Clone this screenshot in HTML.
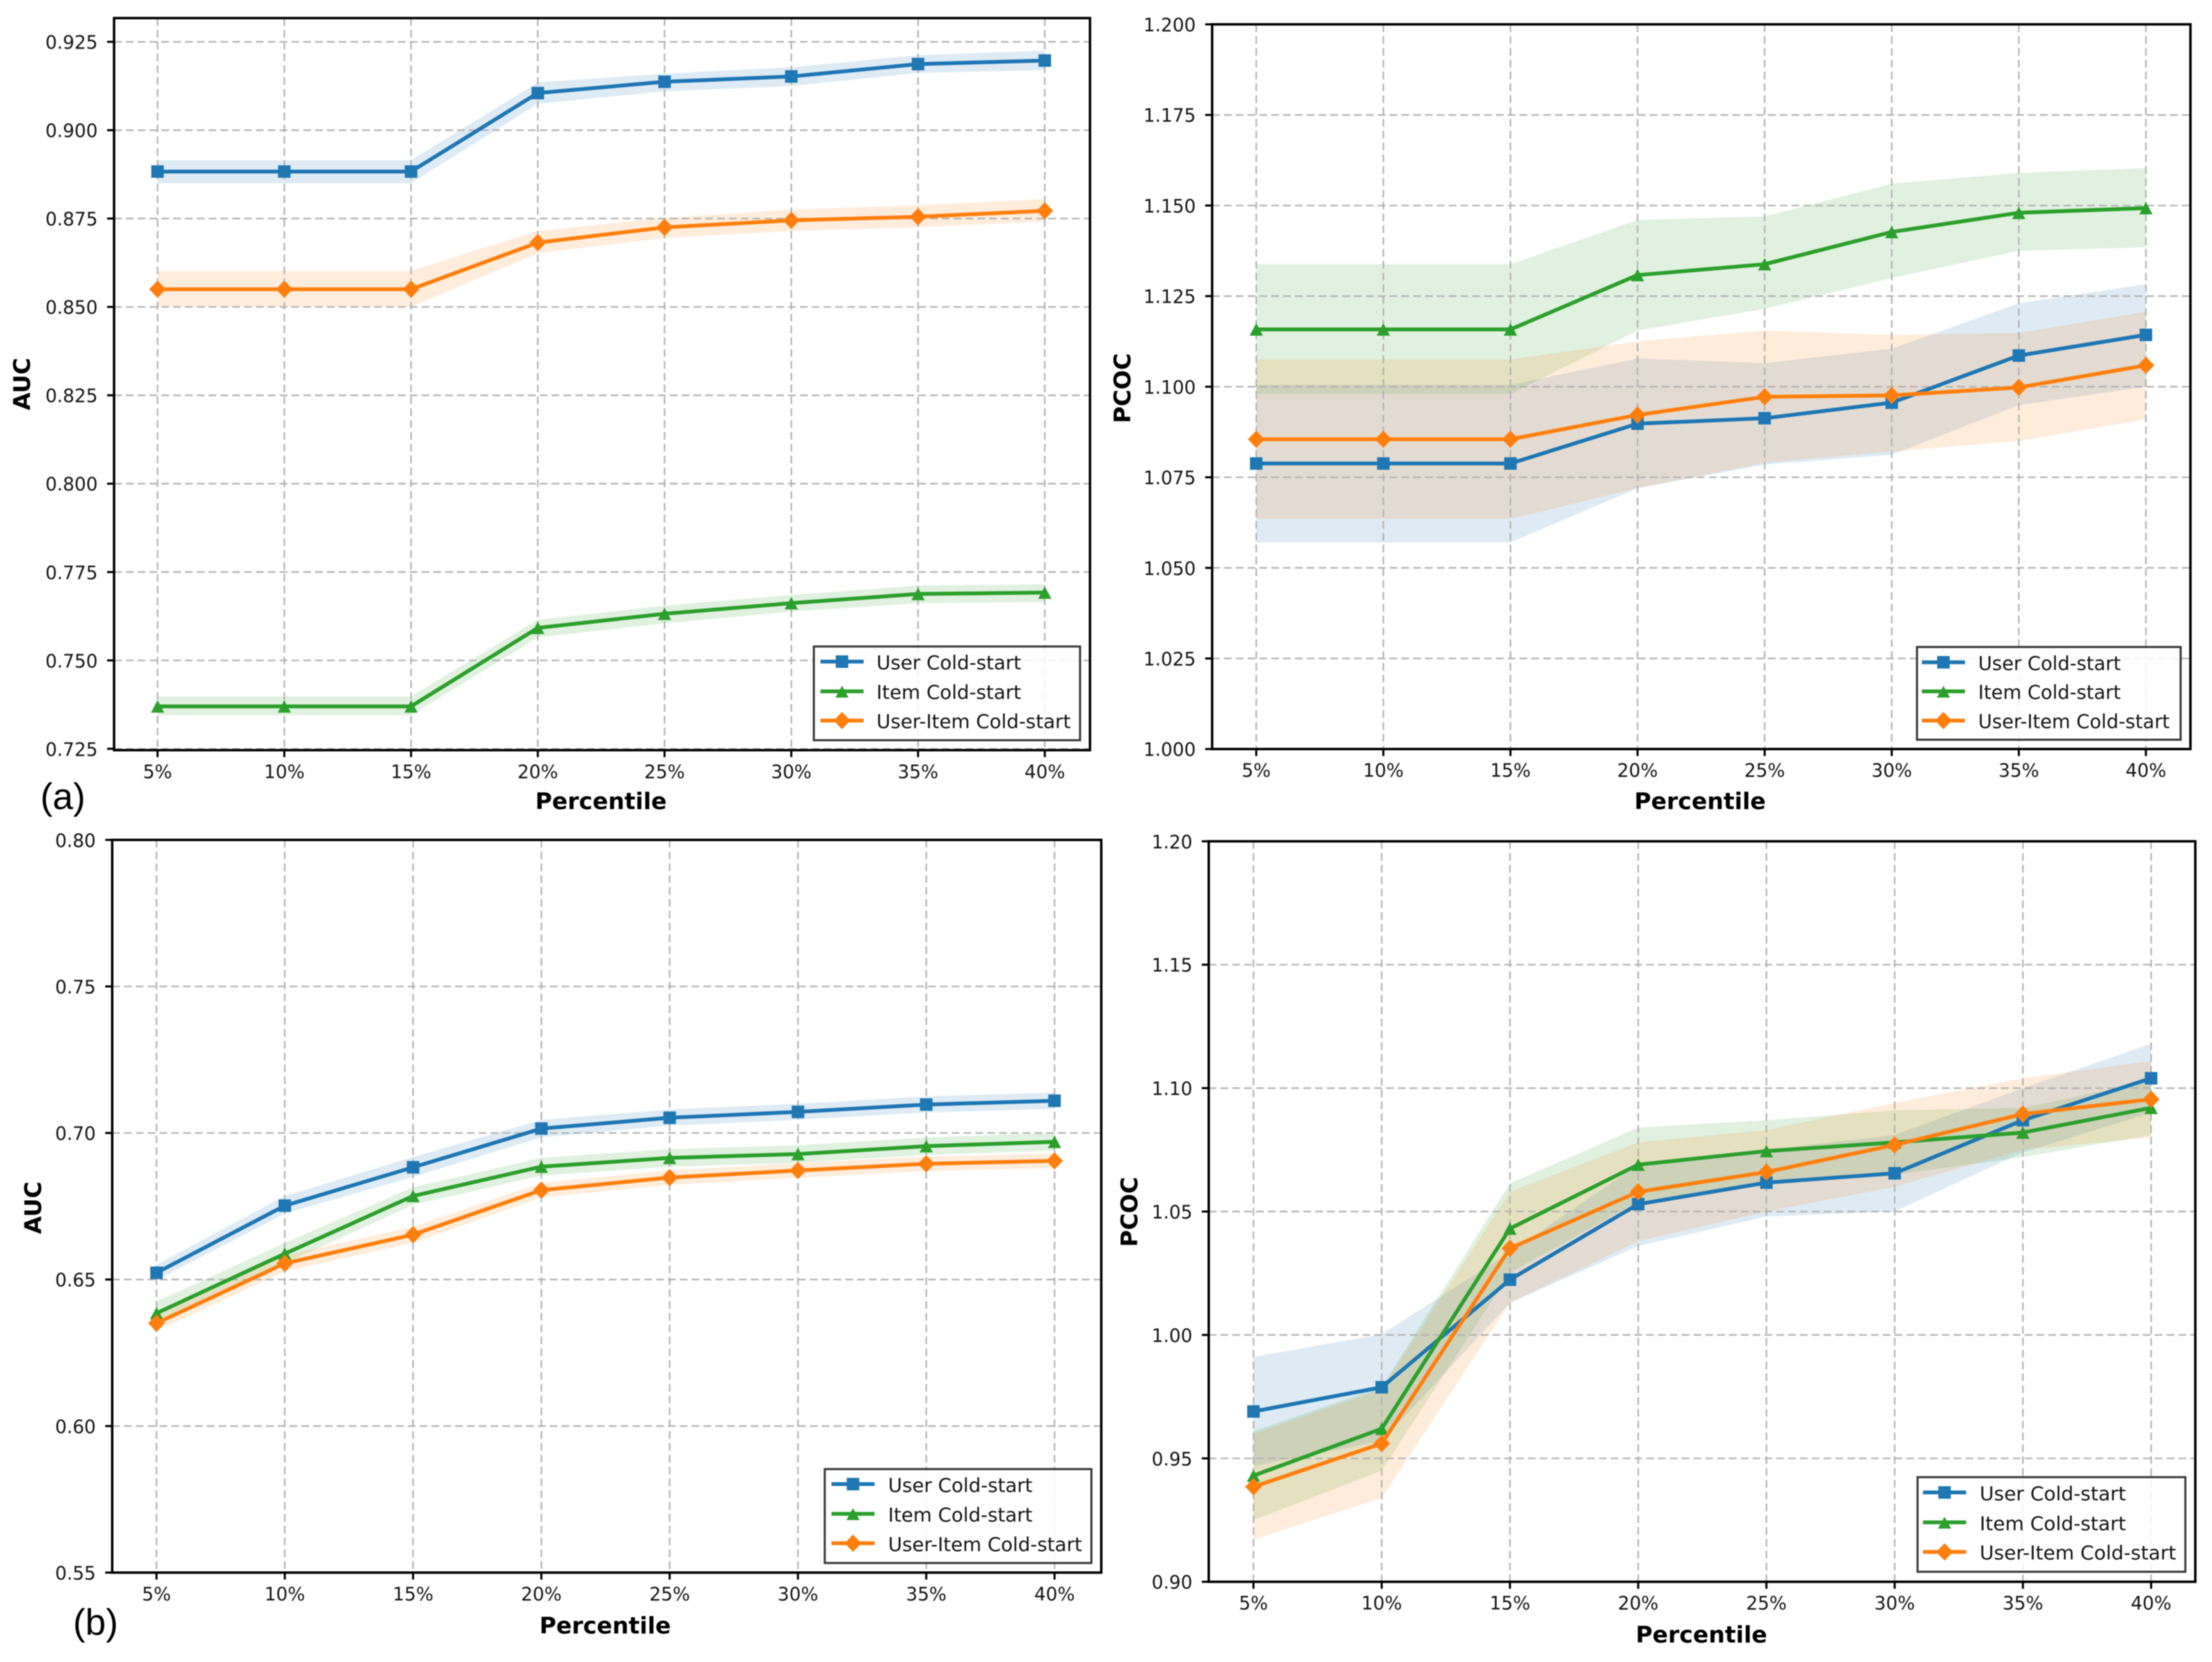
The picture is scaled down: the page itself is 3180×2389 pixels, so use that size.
<!DOCTYPE html>
<html lang="en">
<head>
<meta charset="utf-8">
<title>Cold-start AUC and PCOC by percentile</title>
<style>
html,body{margin:0;padding:0;background:#fff}
svg{display:block;filter:blur(0.7px)}
text{font-family:"DejaVu Sans","Liberation Sans",sans-serif;fill:#151515}
.tick{font-size:26.3px}
.title{font-size:33px;font-weight:bold;fill:#000}
.tag{font-family:"Liberation Sans",sans-serif;font-size:53px;fill:#000}
.box{fill:#fff;fill-opacity:.85;stroke:#3a3a3a;stroke-width:3}
.h{stroke-width:5.5;fill:none}
</style>
</head>
<body>
<svg xmlns="http://www.w3.org/2000/svg" width="3180" height="2389" viewBox="0 0 3180 2389">
<rect width="3180" height="2389" fill="#fff"/>

<g>
  <g id="plot-a"></g>
  <rect x="164" y="26" width="1403" height="1052.3" fill="none" stroke="#000" stroke-width="3.5"/>
  <text class="title" transform="translate(43,552) rotate(-90)" text-anchor="middle">AUC</text>
  <text class="title" x="864" y="1163" text-anchor="middle">Percentile</text>
  <g transform="translate(1170,929.3)">
    <rect class="box" width="382.7" height="134.7"/>
    <g>
      <path class="h" d="M9.5 21.7H71.5" stroke="#1f77b4"/><rect x="31.5" y="12.7" width="18" height="18" fill="#1f77b4"/>
      <text x="90" y="32.7" font-size="27.7">User Cold-start</text>
    </g>
    <g>
      <path class="h" d="M9.5 64.4H71.5" stroke="#2ca02c"/><path d="M40.5 56.4l9.5 17h-19z" fill="#2ca02c"/>
      <text x="90" y="75.4" font-size="27.7">Item Cold-start</text>
    </g>
    <g>
      <path class="h" d="M9.5 106.4H71.5" stroke="#ff7f0e"/><path d="M40.5 93.9l12 12.5-12 12.5-12-12.5z" fill="#ff7f0e"/>
      <text x="90" y="117.4" font-size="27.7">User-Item Cold-start</text>
    </g>
  </g>
  <text class="tag" x="58" y="1163">(a)</text>
</g>

<g>
  <g id="plot-b"></g>
  <rect x="1742.6" y="35" width="1406.4" height="1041.7" fill="none" stroke="#000" stroke-width="3.5"/>
  <text class="title" transform="translate(1625,558) rotate(-90)" text-anchor="middle">PCOC</text>
  <text class="title" x="2444" y="1163" text-anchor="middle">Percentile</text>
  <g transform="translate(2755.9,930)">
    <rect class="box" width="379" height="133.3"/>
    <g>
      <path class="h" d="M7 22H69" stroke="#1f77b4"/><rect x="29" y="13" width="18" height="18" fill="#1f77b4"/>
      <text x="88" y="33" font-size="27.3">User Cold-start</text>
    </g>
    <g>
      <path class="h" d="M7 63.7H69" stroke="#2ca02c"/><path d="M38 55.7l9.5 17h-19z" fill="#2ca02c"/>
      <text x="88" y="74.7" font-size="27.3">Item Cold-start</text>
    </g>
    <g>
      <path class="h" d="M7 105.7H69" stroke="#ff7f0e"/><path d="M38 93.2l12 12.5-12 12.5-12-12.5z" fill="#ff7f0e"/>
      <text x="88" y="116.7" font-size="27.3">User-Item Cold-start</text>
    </g>
  </g>
</g>

<g>
  <g id="plot-c"></g>
  <rect x="161.3" y="1207.3" width="1421.9" height="1053.2" fill="none" stroke="#000" stroke-width="3.5"/>
  <text class="title" transform="translate(59,1736) rotate(-90)" text-anchor="middle">AUC</text>
  <text class="title" x="870" y="2348" text-anchor="middle">Percentile</text>
  <g transform="translate(1185.7,2111.7)">
    <rect class="box" width="383.3" height="135"/>
    <g>
      <path class="h" d="M9.6 21.6H71.6" stroke="#1f77b4"/><rect x="31.6" y="12.6" width="18" height="18" fill="#1f77b4"/>
      <text x="91" y="32.6" font-size="27.66">User Cold-start</text>
    </g>
    <g>
      <path class="h" d="M9.6 64.3H71.6" stroke="#2ca02c"/><path d="M40.6 56.3l9.5 17h-19z" fill="#2ca02c"/>
      <text x="91" y="75.3" font-size="27.66">Item Cold-start</text>
    </g>
    <g>
      <path class="h" d="M9.6 106.6H71.6" stroke="#ff7f0e"/><path d="M40.6 94.1l12 12.5-12 12.5-12-12.5z" fill="#ff7f0e"/>
      <text x="91" y="117.6" font-size="27.66">User-Item Cold-start</text>
    </g>
  </g>
  <text class="tag" x="105" y="2350">(b)</text>
</g>

<g>
  <g id="plot-d"></g>
  <rect x="1737.7" y="1209.3" width="1418.3" height="1064.4" fill="none" stroke="#000" stroke-width="3.5"/>
  <text class="title" transform="translate(1635,1742) rotate(-90)" text-anchor="middle">PCOC</text>
  <text class="title" x="2446" y="2361" text-anchor="middle">Percentile</text>
  <g transform="translate(2756.7,2123.3)">
    <rect class="box" width="385" height="136"/>
    <g>
      <path class="h" d="M7.8 22H69.8" stroke="#1f77b4"/><rect x="29.8" y="13" width="18" height="18" fill="#1f77b4"/>
      <text x="89.3" y="33" font-size="28">User Cold-start</text>
    </g>
    <g>
      <path class="h" d="M7.8 65H69.8" stroke="#2ca02c"/><path d="M38.8 57l9.5 17h-19z" fill="#2ca02c"/>
      <text x="89.3" y="76" font-size="28">Item Cold-start</text>
    </g>
    <g>
      <path class="h" d="M7.8 107.4H69.8" stroke="#ff7f0e"/><path d="M38.8 94.9l12 12.5-12 12.5-12-12.5z" fill="#ff7f0e"/>
      <text x="89.3" y="118.4" font-size="28">User-Item Cold-start</text>
    </g>
  </g>
</g>
</svg>

<script>
const percentiles = ['5%','10%','15%','20%','25%','30%','35%','40%'];

const ticksA = ['0.725','0.750','0.775','0.800','0.825','0.850','0.875','0.900','0.925'];
const userA = [0.8883,0.8883,0.8883,0.9105,0.9137,0.9152,0.9187,0.9197];
const userAUpper = [0.8915,0.8915,0.8915,0.9135,0.9160,0.9178,0.9212,0.9225];
const userALower = [0.8850,0.8850,0.8850,0.9075,0.9110,0.9125,0.9162,0.9170];
const itemA = [0.7370,0.7370,0.7370,0.7592,0.7632,0.7662,0.7688,0.7692];
const itemAUpper = [0.7398,0.7398,0.7398,0.7615,0.7655,0.7685,0.7712,0.7715];
const itemALower = [0.7345,0.7345,0.7345,0.7565,0.7605,0.7638,0.7662,0.7665];
const mixA = [0.8550,0.8550,0.8550,0.8682,0.8725,0.8745,0.8755,0.8772];
const mixAUpper = [0.8602,0.8602,0.8602,0.8715,0.8752,0.8775,0.8788,0.8805];
const mixALower = [0.8500,0.8500,0.8500,0.8652,0.8695,0.8715,0.8725,0.8742];

const ticksB = ['1.000','1.025','1.050','1.075','1.100','1.125','1.150','1.175','1.200'];
const userB = [1.0788,1.0788,1.0788,1.0898,1.0913,1.0956,1.1086,1.1143];
const userBUpper = [1.1005,1.1005,1.1005,1.1078,1.1065,1.1105,1.1230,1.1283];
const userBLower = [1.0570,1.0570,1.0570,1.0720,1.0785,1.0812,1.0949,1.1000];
const itemB = [1.1158,1.1158,1.1158,1.1308,1.1338,1.1427,1.1480,1.1493];
const itemBUpper = [1.1338,1.1338,1.1338,1.1460,1.1470,1.1560,1.1590,1.1603];
const itemBLower = [1.0980,1.0980,1.0980,1.1155,1.1215,1.1300,1.1375,1.1385];
const mixB = [1.0855,1.0855,1.0855,1.0922,1.0972,1.0976,1.0998,1.1059];
const mixBUpper = [1.1075,1.1075,1.1075,1.1125,1.1155,1.1143,1.1148,1.1207];
const mixBLower = [1.0635,1.0635,1.0635,1.0720,1.0790,1.0821,1.0850,1.0910];

const ticksC = ['0.55','0.60','0.65','0.70','0.75','0.80'];
const userC = [0.6523,0.6752,0.6883,0.7015,0.7052,0.7072,0.7097,0.7110];
const userCUpper = [0.6550,0.6785,0.6918,0.7045,0.7080,0.7100,0.7125,0.7138];
const userCLower = [0.6498,0.6725,0.6850,0.6985,0.7025,0.7045,0.7070,0.7082];
const itemC = [0.6385,0.6588,0.6785,0.6885,0.6915,0.6928,0.6955,0.6970];
const itemCUpper = [0.6425,0.6625,0.6815,0.6915,0.6945,0.6958,0.6985,0.7000];
const itemCLower = [0.6350,0.6555,0.6755,0.6855,0.6885,0.6898,0.6925,0.6940];
const mixC = [0.6351,0.6555,0.6653,0.6805,0.6848,0.6872,0.6895,0.6905];
const mixCUpper = [0.6378,0.6582,0.6680,0.6830,0.6873,0.6897,0.6920,0.6930];
const mixCLower = [0.6325,0.6528,0.6625,0.6780,0.6823,0.6847,0.6870,0.6880];

const ticksD = ['0.90','0.95','1.00','1.05','1.10','1.15','1.20'];
const userD = [0.9690,0.9788,1.0224,1.0530,1.0617,1.0655,1.0870,1.1040];
const userDUpper = [0.9911,1.0003,1.0335,1.0690,1.0750,1.0810,1.1000,1.1180];
const userDLower = [0.9470,0.9570,1.0130,1.0360,1.0480,1.0500,1.0740,1.0900];
const itemD = [0.9430,0.9620,1.0431,1.0690,1.0745,1.0780,1.0820,1.0920];
const itemDUpper = [0.9610,0.9790,1.0614,1.0840,1.0870,1.0910,1.0920,1.1030];
const itemDLower = [0.9250,0.9450,1.0252,1.0540,1.0620,1.0650,1.0720,1.0810];
const mixD = [0.9385,0.9560,1.0351,1.0580,1.0660,1.0770,1.0895,1.0955];
const mixDUpper = [0.9600,0.9780,1.0580,1.0780,1.0830,1.0940,1.1040,1.1110];
const mixDLower = [0.9170,0.9340,1.0130,1.0380,1.0500,1.0600,1.0750,1.0800];

const SVGNS = 'http://www.w3.org/2000/svg';
const BLUE = '#1f77b4', GREEN = '#2ca02c', ORANGE = '#ff7f0e';

function make(parent, tag, attrs) {
  const el = document.createElementNS(SVGNS, tag);
  for (const k in attrs) el.setAttribute(k, attrs[k]);
  parent.appendChild(el);
  return el;
}

function drawPanel(p) {
  const root = document.getElementById('plot-' + p.id);
  const xAt = i => p.x5 + i * (p.x40 - p.x5) / (percentiles.length - 1);
  const scale = (p.yB - p.yA) / (p.vB - p.vA);
  const yAt = v => p.yA + (v - p.vA) * scale;

  p.series.forEach(s => {
    const up = s.upper.map((v, i) => xAt(i) + ',' + yAt(v));
    const lo = s.lower.map((v, i) => xAt(i) + ',' + yAt(v)).reverse();
    const band = make(root, 'polygon', {points: up.concat(lo).join(' '), fill: s.color, 'fill-opacity': 0.15});
    
    
  });

  p.ticks.forEach(t => {
    const y = yAt(parseFloat(t));
    const grid = make(root, 'line', {x1: p.left, x2: p.right, y1: y, y2: y, stroke: '#b3b3b3', 'stroke-width': 2.2, 'stroke-dasharray': '11 6'});
    
    
    const mark = make(root, 'line', {x1: p.left - 10, x2: p.left, y1: y, y2: y, stroke: '#000', 'stroke-width': 3});
    
    
    const label = make(root, 'text', {x: p.left - 23.5, y: y + 10, 'text-anchor': 'end', class: 'tick'});
    label.textContent = t;
    
    
  });

  percentiles.forEach((t, i) => {
    const x = xAt(i);
    const grid = make(root, 'line', {x1: x, x2: x, y1: p.top, y2: p.bottom, stroke: '#b3b3b3', 'stroke-width': 2.2, 'stroke-dasharray': '11 6'});
    
    
    const mark = make(root, 'line', {x1: x, x2: x, y1: p.bottom, y2: p.bottom + 10, stroke: '#000', 'stroke-width': 3});
    
    
    const label = make(root, 'text', {x: x, y: p.bottom + 40, 'text-anchor': 'middle', class: 'tick'});
    label.textContent = t;
    
    
  });

  p.series.forEach(s => {
    const pts = s.values.map((v, i) => xAt(i) + ',' + yAt(v)).join(' ');
    const line = make(root, 'polyline', {points: pts, fill: 'none', stroke: s.color, 'stroke-width': 5.5, 'stroke-linejoin': 'round'});
    
    
    s.values.forEach((v, i) => {
      const x = xAt(i), y = yAt(v);
      let m;
      if (s.shape === 'square') {
        m = make(root, 'rect', {x: x - 9, y: y - 9, width: 18, height: 18, fill: s.color});
      } else if (s.shape === 'triangle') {
        m = make(root, 'polygon', {points: x + ',' + (y - 9) + ' ' + (x + 9.5) + ',' + (y + 9) + ' ' + (x - 9.5) + ',' + (y + 9), fill: s.color});
      } else {
        m = make(root, 'polygon', {points: x + ',' + (y - 12.5) + ' ' + (x + 12) + ',' + y + ' ' + x + ',' + (y + 12.5) + ' ' + (x - 12) + ',' + y, fill: s.color});
      }
      
      
    });
  });
}

drawPanel({id: 'a', left: 164, right: 1567, top: 26, bottom: 1078.3, x5: 226.5, x40: 1502, vA: 0.925, yA: 60.1, vB: 0.750, yB: 949.3, ticks: ticksA, series: [
  {key: 'user', color: BLUE, shape: 'square', values: userA, upper: userAUpper, lower: userALower},
  {key: 'item', color: GREEN, shape: 'triangle', values: itemA, upper: itemAUpper, lower: itemALower},
  {key: 'user-item', color: ORANGE, shape: 'diamond', values: mixA, upper: mixAUpper, lower: mixALower}
]});
drawPanel({id: 'b', left: 1742.6, right: 3149, top: 35, bottom: 1076.7, x5: 1806, x40: 3085, vA: 1.200, yA: 35, vB: 1.000, yB: 1076.7, ticks: ticksB, series: [
  {key: 'user', color: BLUE, shape: 'square', values: userB, upper: userBUpper, lower: userBLower},
  {key: 'item', color: GREEN, shape: 'triangle', values: itemB, upper: itemBUpper, lower: itemBLower},
  {key: 'user-item', color: ORANGE, shape: 'diamond', values: mixB, upper: mixBUpper, lower: mixBLower}
]});
drawPanel({id: 'c', left: 161.3, right: 1583.2, top: 1207.3, bottom: 2260.5, x5: 225, x40: 1516, vA: 0.80, yA: 1207.3, vB: 0.55, yB: 2260.5, ticks: ticksC, series: [
  {key: 'user', color: BLUE, shape: 'square', values: userC, upper: userCUpper, lower: userCLower},
  {key: 'item', color: GREEN, shape: 'triangle', values: itemC, upper: itemCUpper, lower: itemCLower},
  {key: 'user-item', color: ORANGE, shape: 'diamond', values: mixC, upper: mixCUpper, lower: mixCLower}
]});
drawPanel({id: 'd', left: 1737.7, right: 3156, top: 1209.3, bottom: 2273.7, x5: 1802, x40: 3092.5, vA: 1.20, yA: 1209.3, vB: 0.90, yB: 2273.7, ticks: ticksD, series: [
  {key: 'user', color: BLUE, shape: 'square', values: userD, upper: userDUpper, lower: userDLower},
  {key: 'item', color: GREEN, shape: 'triangle', values: itemD, upper: itemDUpper, lower: itemDLower},
  {key: 'user-item', color: ORANGE, shape: 'diamond', values: mixD, upper: mixDUpper, lower: mixDLower}
]});
</script>
</body>
</html>
